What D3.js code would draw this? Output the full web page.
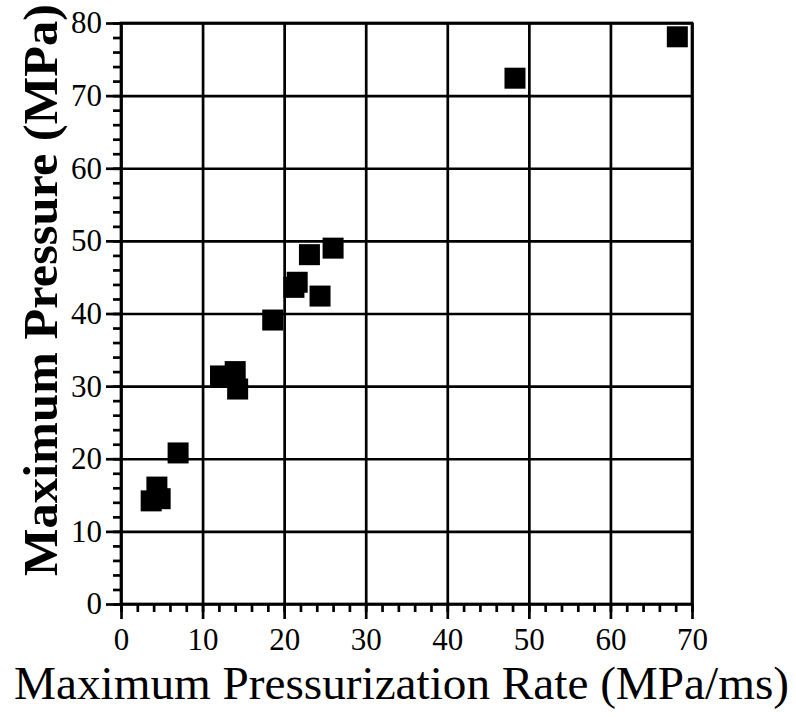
<!DOCTYPE html>
<html>
<head>
<meta charset="utf-8">
<script src="https://cdn.jsdelivr.net/npm/d3@7"></script>
<style>
  body { margin: 0; background: #fff; }
  svg { display: block; }
</style>
</head>
<body>
<svg id="chart" width="796" height="717"></svg>
<script>
// rate (MPa/ms) vs max pressure (MPa)
var rates     = [68.2, 48.3, 26.0, 23.1, 21.2, 21.6, 24.4, 18.6, 12.2, 14.0, 14.3, 7.0, 4.4, 4.8, 3.7];
var pressures = [78.1, 72.4, 49.0, 48.1, 43.6, 44.3, 42.4, 39.1, 31.4, 32.0, 29.6, 20.8, 16.1, 14.5, 14.2];

var xTicks = [0, 10, 20, 30, 40, 50, 60, 70];
var yTicks = [0, 10, 20, 30, 40, 50, 60, 70, 80];
var xMinor = d3.range(0, 71, 2);
var yMinor = d3.range(0, 81, 2);

var xTitle = "Maximum Pressurization Rate (MPa/ms)";
var yTitle = "Maximum Pressure (MPa)";

var svg = d3.select("#chart");
var pLeft = 121, pRight = 692, pTop = 23, pBottom = 604;

var x = d3.scaleLinear().domain([0, 70]).range([pLeft, pRight]);
var y = d3.scaleLinear().domain([0, 80]).range([pBottom, pTop]);

var font = "'Liberation Serif', 'Times New Roman', serif";
var lw = 2.7;

function blackLines(g) {
    g.select(".domain").remove();
    g.selectAll("line").attr("stroke", "#000").attr("stroke-width", lw);
}

// grid lines
svg.append("g")
    .attr("transform", "translate(0," + pBottom + ")")
    .call(d3.axisBottom(x).tickValues(xTicks).tickSize(-(pBottom - pTop)).tickFormat("").tickSizeOuter(0))
    .call(blackLines);

svg.append("g")
    .attr("transform", "translate(" + pLeft + ",0)")
    .call(d3.axisLeft(y).tickValues(yTicks).tickSize(-(pRight - pLeft)).tickFormat("").tickSizeOuter(0))
    .call(blackLines);

// minor ticks (outward)
svg.append("g")
    .attr("transform", "translate(0," + pBottom + ")")
    .call(d3.axisBottom(x).tickValues(xMinor).tickSize(8).tickFormat("").tickSizeOuter(0))
    .call(blackLines);

svg.append("g")
    .attr("transform", "translate(" + pLeft + ",0)")
    .call(d3.axisLeft(y).tickValues(yMinor).tickSize(8).tickFormat("").tickSizeOuter(0))
    .call(blackLines);

// major ticks + labels
var xAxis = svg.append("g")
    .attr("transform", "translate(0," + pBottom + ")")
    .call(d3.axisBottom(x).tickValues(xTicks).tickSize(15).tickPadding(9).tickSizeOuter(0))
    .call(blackLines);
xAxis.selectAll("text").style("font-family", font).style("font-size", "31px").attr("fill", "#000");

var yAxis = svg.append("g")
    .attr("transform", "translate(" + pLeft + ",0)")
    .call(d3.axisLeft(y).tickValues(yTicks).tickSize(15).tickPadding(4).tickSizeOuter(0))
    .call(blackLines);
yAxis.selectAll("text").style("font-family", font).style("font-size", "31px").attr("fill", "#000");

// frame
svg.append("rect")
    .attr("x", x(0)).attr("y", y(80))
    .attr("width", x(70) - x(0)).attr("height", y(0) - y(80))
    .attr("fill", "none").attr("stroke", "#000").attr("stroke-width", lw);

// points
var size = 21;
svg.append("g").selectAll("rect")
    .data(rates)
    .enter().append("rect")
    .attr("x", function(d) { return x(d) - size / 2; })
    .attr("y", function(d, i) { return y(pressures[i]) - size / 2; })
    .attr("width", size).attr("height", size)
    .attr("fill", "#000");

// titles
svg.append("text")
    .attr("x", 14).attr("y", 699)
    .style("font-family", font).style("font-size", "47px")
    .attr("textLength", 775).attr("lengthAdjust", "spacingAndGlyphs")
    .text(xTitle);

svg.append("text")
    .attr("transform", "translate(57,576) rotate(-90)")
    .style("font-family", font).style("font-size", "48px").style("font-weight", "bold")
    .attr("textLength", 572).attr("lengthAdjust", "spacingAndGlyphs")
    .text(yTitle);
</script>
</body>
</html>
